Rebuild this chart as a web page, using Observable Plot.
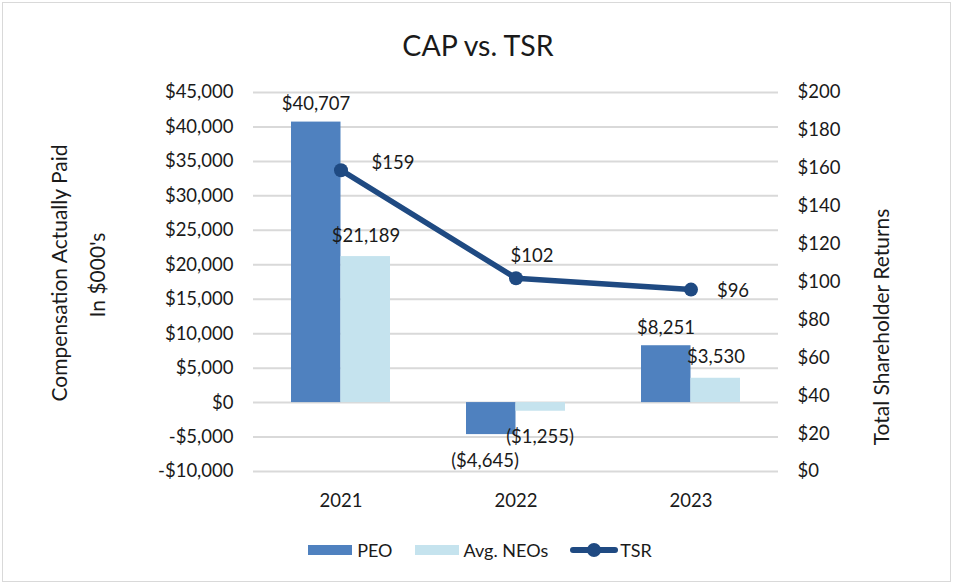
<!DOCTYPE html>
<html>
<head>
<meta charset="utf-8">
<script src="https://cdn.jsdelivr.net/npm/d3@7"></script>
<script src="https://cdn.jsdelivr.net/npm/@observablehq/plot@0.6"></script>
<style>
  body { margin: 0; background: #fff; font-family: Lato, "Open Sans", sans-serif; color: #1a1a1a; }
  #wrap { position: relative; width: 956px; height: 586px; overflow: hidden; }
  #border { position: absolute; left: 2px; top: 2px; width: 949px; height: 580px; border: 1px solid #d9d9d9; box-sizing: border-box; }
  #title { position: absolute; top: 26px; left: 0; width: 956px; text-align: center; font-size: 28.5px; line-height: 38px; }
  #chart { position: absolute; top: 70px; left: 0; }
  #legend { position: absolute; top: 539px; left: 2px; width: 956px; display: flex; justify-content: center; align-items: center; font-size: 18px; line-height: 22px; }
  .item { display: flex; align-items: center; margin: 0 11px; }
  .sw { width: 44px; height: 10px; margin-right: 5px; }
  .ln { position: relative; width: 48px; height: 14px; margin-right: 2px; }
  .ln .bar { position: absolute; left: 0; top: 4px; width: 48px; height: 6px; background: #1f4a82; border-radius: 3px; }
  .ln .pt { position: absolute; left: 17px; top: 0; width: 14px; height: 14px; background: #1f4a82; border-radius: 50%; }
</style>
</head>
<body>
<div id="wrap">
  <div id="border"></div>
  <div id="title">CAP vs. TSR</div>
  <div id="chart"></div>
  <div id="legend"></div>
</div>
<script>
const years = ["2021", "2022", "2023"];
const peo = [40707, -4645, 8251];
const neo = [21189, -1255, 3530];
const tsr = [159, 102, 96];
const leftTicks = d3.range(-10000, 45001, 5000);
const rightTicks = d3.range(0, 201, 20);
const seriesNames = ["PEO", "Avg. NEOs", "TSR"];

const C_PEO = "#4f81bf";
const C_NEO = "#c5e3ee";
const C_TSR = "#1f4a82";

const rows = years.map((y, i) => ({year: y, peo: peo[i], neo: neo[i], tsr: tsr[i], i}));
const toLeft = d3.scaleLinear([0, 200], [-10000, 45000]);

const fmtLeft = d => (d < 0 ? "-" : "") + "$" + d3.format(",")(Math.abs(d));
const fmtBar = d => d < 0 ? "($" + d3.format(",")(Math.abs(d)) + ")" : "$" + d3.format(",")(d);

const fs = 18.5;
const ft = 21;
const chart = Plot.plot({
  width: 956,
  height: 440,
  marginTop: 22,
  marginBottom: 39,
  marginLeft: 253,
  marginRight: 178,
  style: {fontFamily: "Lato, 'Open Sans', sans-serif", fontSize: fs + "px", color: "#1a1a1a", background: "transparent", overflow: "visible"},
  x: {domain: years, paddingInner: 0.434, paddingOuter: 0.217},
  y: {domain: [-10000, 45000]},
  marks: [
    Plot.gridY(leftTicks, {stroke: "#d9d9d9", strokeOpacity: 1, strokeWidth: 2}),
    Plot.barY(rows, {x: "year", y: "peo", fill: C_PEO, insetRight: 49.5}),
    Plot.barY(rows, {x: "year", y: "neo", fill: C_NEO, insetLeft: 49.5}),
    Plot.line(rows, {x: "year", y: d => toLeft(d.tsr), stroke: C_TSR, strokeWidth: 5.5}),
    Plot.dot(rows, {x: "year", y: d => toLeft(d.tsr), r: 7, fill: C_TSR}),
    // bar labels
    Plot.text(rows.filter(d => d.peo >= 0), {x: "year", y: "peo", text: d => fmtBar(d.peo), dx: -25, dy: -18, fontSize: fs, fill: "#1a1a1a"}),
    Plot.text(rows.filter(d => d.peo < 0), {x: "year", y: "peo", text: d => fmtBar(d.peo), dx: -31, dy: 26, fontSize: fs, fill: "#1a1a1a"}),
    Plot.text(rows.filter(d => d.neo >= 0), {x: "year", y: "neo", text: d => fmtBar(d.neo), dx: 25, dy: -21, fontSize: fs, fill: "#1a1a1a"}),
    Plot.text(rows.filter(d => d.neo < 0), {x: "year", y: "neo", text: d => fmtBar(d.neo), dx: 24, dy: 26, fontSize: fs, fill: "#1a1a1a"}),
    // TSR labels
    Plot.text(rows.filter(d => d.i === 0), {x: "year", y: d => toLeft(d.tsr), text: d => "$" + d.tsr, dx: 52, dy: -7, fontSize: fs, fill: "#1a1a1a"}),
    Plot.text(rows.filter(d => d.i === 1), {x: "year", y: d => toLeft(d.tsr), text: d => "$" + d.tsr, dx: 16, dy: -22, fontSize: fs, fill: "#1a1a1a"}),
    Plot.text(rows.filter(d => d.i === 2), {x: "year", y: d => toLeft(d.tsr), text: d => "$" + d.tsr, dx: 42, dy: 1, fontSize: fs, fill: "#1a1a1a"}),
    // axes
    Plot.axisY(leftTicks, {anchor: "left", tickSize: 0, tickPadding: 20, tickFormat: fmtLeft, label: null, fontSize: fs}),
    Plot.axisY(rightTicks, {y: d => toLeft(d), anchor: "right", tickSize: 0, tickPadding: 19, tickFormat: d => "$" + d, label: null, fontSize: fs}),
    Plot.axisX({tickSize: 0, tickPadding: 22, label: null, fontSize: fs}),
    // axis titles
    Plot.text(["Compensation Actually Paid"], {frameAnchor: "left", textAnchor: "middle", rotate: -90, dx: -193, dy: -9, fontSize: ft, fill: "#1a1a1a"}),
    Plot.text(["In $000's"], {frameAnchor: "left", textAnchor: "middle", rotate: -90, dx: -155, dy: -7, fontSize: ft, fill: "#1a1a1a"}),
    Plot.text(["Total Shareholder Returns"], {frameAnchor: "right", textAnchor: "middle", rotate: -90, dx: 104, dy: 45, fontSize: ft, fill: "#1a1a1a"})
  ]
});
document.getElementById("chart").appendChild(chart);

// legend
const legend = document.getElementById("legend");
const swColors = [C_PEO, C_NEO];
seriesNames.forEach((name, i) => {
  const item = document.createElement("div");
  item.className = "item";
  if (i < 2) {
    const sw = document.createElement("div");
    sw.className = "sw";
    sw.style.background = swColors[i];
    item.appendChild(sw);
  } else {
    const ln = document.createElement("div");
    ln.className = "ln";
    ln.innerHTML = '<div class="bar"></div><div class="pt"></div>';
    item.appendChild(ln);
  }
  const t = document.createElement("span");
  t.textContent = name;
  item.appendChild(t);
  legend.appendChild(item);
});
</script>
</body>
</html>
